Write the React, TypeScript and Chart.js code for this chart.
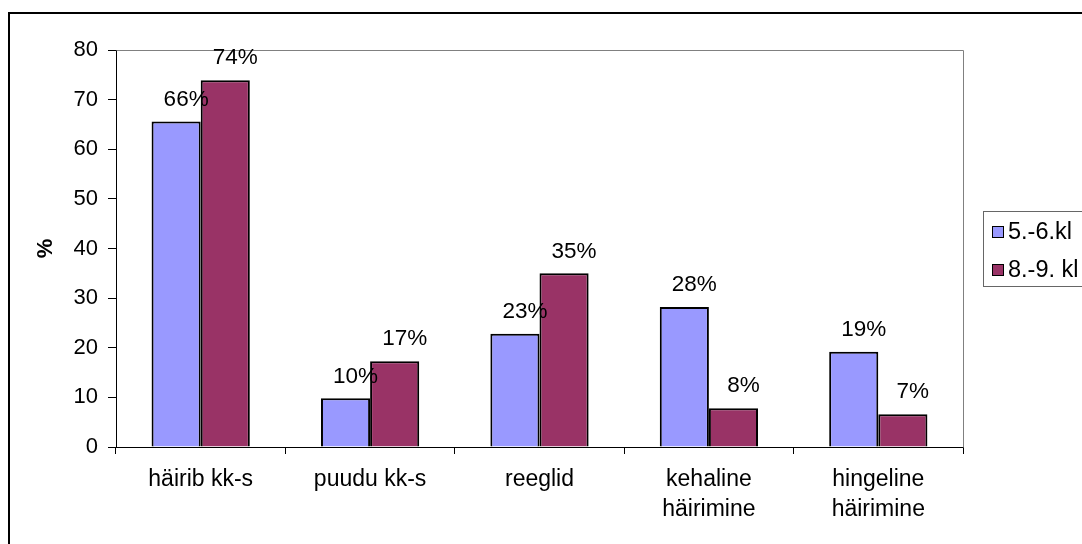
import React, { useEffect, useRef } from "react";
import { Chart, registerables } from "chart.js";

Chart.register(...registerables);

const categories: string[][] = [
  ["häirib kk-s"],
  ["puudu kk-s"],
  ["reeglid"],
  ["kehaline", "häirimine"],
  ["hingeline", "häirimine"],
];
const seriesNames = ["5.-6.kl", "8.-9. kl"];
const grade56 = [65.6, 9.8, 22.8, 28.2, 19.2];
const grade89 = [73.9, 17.3, 35.0, 7.8, 6.6];
const labels56 = ["66%", "10%", "23%", "28%", "19%"];
const labels89 = ["74%", "17%", "35%", "8%", "7%"];
const valueLabels = [labels56, labels89];
const yMin = 0;
const yMax = 80;
const yStep = 10;
const axisTitle = "%";

const FONT = "'Liberation Sans', Arial, sans-serif";
const colors = ["#9999FF", "#993366"];

const decorPlugin = {
  id: "decor",
  beforeDraw(chart: any) {
    const ctx = chart.ctx;
    ctx.save();
    ctx.fillStyle = "#ffffff";
    ctx.fillRect(0, 0, chart.width, chart.height);
    ctx.fillStyle = "#000000";
    ctx.fillRect(8, 12, chart.width - 8, 2);
    ctx.fillRect(8, 12, 2, chart.height - 12);
    ctx.restore();
  },
  beforeDatasetsDraw(chart: any) {
    const ctx = chart.ctx;
    const a = chart.chartArea;
    ctx.save();
    ctx.strokeStyle = "#808080";
    ctx.lineWidth = 1;
    ctx.beginPath();
    ctx.moveTo(Math.round(a.left) + 0.5, Math.round(a.top) + 0.5);
    ctx.lineTo(Math.round(a.right) + 0.5, Math.round(a.top) + 0.5);
    ctx.lineTo(Math.round(a.right) + 0.5, Math.round(a.bottom) + 0.5);
    ctx.stroke();
    ctx.restore();
  },
  afterDatasetsDraw(chart: any) {
    const ctx = chart.ctx;
    ctx.save();
    ctx.fillStyle = "#000";
    ctx.font = `22.5px ${FONT}`;
    ctx.textAlign = "center";
    ctx.textBaseline = "middle";
    chart.data.datasets.forEach((ds: any, i: number) => {
      const meta = chart.getDatasetMeta(i);
      meta.data.forEach((el: any, j: number) => {
        ctx.fillText(valueLabels[i][j], el.x + 10, el.y - 22);
      });
    });
    ctx.restore();
  },
  afterDraw(chart: any) {
    const ctx = chart.ctx;
    ctx.save();
    ctx.fillStyle = "#fff";
    ctx.fillRect(983, 211, 120, 75);
    ctx.strokeStyle = "#666";
    ctx.lineWidth = 1;
    ctx.strokeRect(983.5, 211.5, 120, 75);
    ctx.font = `23.5px ${FONT}`;
    ctx.textAlign = "left";
    ctx.textBaseline = "middle";
    chart.data.datasets.forEach((ds: any, i: number) => {
      const cy = 232 + i * 38;
      ctx.fillStyle = ds.backgroundColor;
      ctx.fillRect(992, cy - 5, 11, 11);
      ctx.strokeStyle = "#000";
      ctx.strokeRect(992.5, cy - 5.5, 11, 11);
      ctx.fillStyle = "#000";
      ctx.fillText(ds.label, 1008, cy + 1);
    });
    ctx.restore();
  },
};

export default function App() {
  const ref = useRef<HTMLCanvasElement | null>(null);
  useEffect(() => {
    if (!ref.current) return;
    const chart = new Chart(ref.current, {
      type: "bar",
      data: {
        labels: categories,
        datasets: [
          {
            label: seriesNames[0],
            data: grade56,
            backgroundColor: colors[0],
            borderColor: "#000",
            borderWidth: 2,
            categoryPercentage: 0.58,
            barPercentage: 1.0,
          },
          {
            label: seriesNames[1],
            data: grade89,
            backgroundColor: colors[1],
            borderColor: "#000",
            borderWidth: 2,
            categoryPercentage: 0.58,
            barPercentage: 1.0,
          },
        ],
      },
      options: {
        animation: false,
        responsive: true,
        maintainAspectRatio: false,
        layout: { padding: { left: 0, top: 50, right: 119, bottom: 0 } },
        plugins: {
          legend: { display: false },
          tooltip: { enabled: false },
        },
        scales: {
          x: {
            grid: {
              display: true,
              offset: true,
              drawOnChartArea: false,
              drawTicks: true,
              tickLength: 7,
              color: "#000",
            },
            border: { display: true, color: "#000", width: 1 },
            ticks: {
              color: "#000",
              font: { family: FONT, size: 23, lineHeight: 1.3 },
              padding: 11,
              maxRotation: 0,
              autoSkip: false,
            },
            afterFit(scale: any) {
              scale.height = 97;
            },
          },
          y: {
            min: yMin,
            max: yMax,
            grid: {
              display: true,
              drawOnChartArea: false,
              drawTicks: true,
              tickLength: 8,
              color: "#000",
            },
            border: { display: true, color: "#000", width: 1 },
            ticks: {
              stepSize: yStep,
              color: "#000",
              font: { family: FONT, size: 22 },
              padding: 10,
            },
            title: {
              display: true,
              text: axisTitle,
              color: "#000",
              font: { family: FONT, size: 22, weight: "bold" },
              padding: { top: 33, bottom: 0 },
            },
            afterFit(scale: any) {
              scale.width = 116;
            },
          },
        },
      },
      plugins: [decorPlugin],
    });
    return () => chart.destroy();
  }, []);
  return (
    <div style={{ position: "absolute", left: 0, top: 0, width: 1082, height: 544 }}>
      <canvas ref={ref} />
    </div>
  );
}
